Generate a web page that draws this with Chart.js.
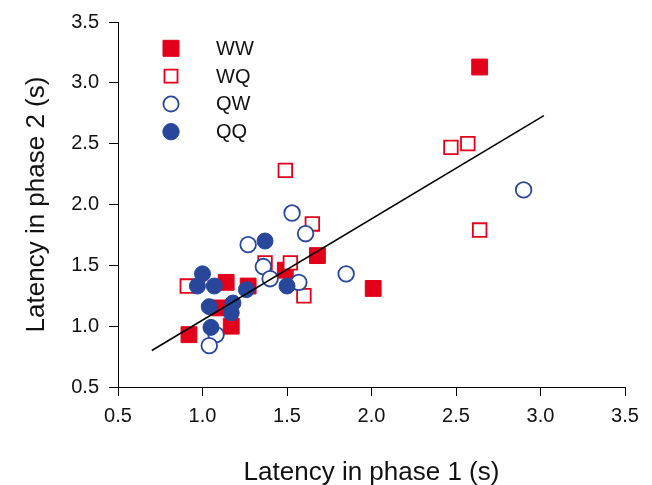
<!DOCTYPE html>
<html>
<head>
<meta charset="utf-8">
<script src="https://cdn.jsdelivr.net/npm/chart.js@4.4.1/dist/chart.umd.min.js"></script>
<style>
  html, body { margin: 0; padding: 0; background: #fff; }
  #wrap { width: 652px; height: 485px; }
</style>
</head>
<body>
<div id="wrap"><canvas id="grafico" width="652" height="485"></canvas></div>
<script>
// datos
const wwX = [2.64, 2.01, 1.68, 0.92, 1.17, 1.14, 1.27, 1.49, 1.10];
const wwY = [3.13, 1.31, 1.58, 0.93, 1.00, 1.36, 1.33, 1.46, 1.15];
const wqX = [1.49, 2.47, 2.57, 2.64, 1.65, 1.37, 1.52, 1.60, 0.91];
const wqY = [2.28, 2.47, 2.50, 1.79, 1.84, 1.52, 1.52, 1.25, 1.33];
const qwX = [2.90, 1.53, 1.61, 1.27, 1.85, 1.36, 1.40, 1.57, 1.08, 1.04];
const qwY = [2.12, 1.93, 1.76, 1.67, 1.43, 1.49, 1.39, 1.36, 0.93, 0.84];
const qqX = [1.37, 1.50, 1.26, 1.00, 0.97, 1.07, 1.04, 1.18, 1.17, 1.05];
const qqY = [1.70, 1.33, 1.30, 1.43, 1.33, 1.33, 1.16, 1.19, 1.11, 0.99];
const lineaX = [0.70, 3.02];
const lineaY = [0.80, 2.73];
const tickValues = [0.5, 1.0, 1.5, 2.0, 2.5, 3.0, 3.5];

const rojo = '#e2001a';
const azul = '#28479b';

function pares(xs, ys) {
    return xs.map((x, i) => ({ x: x, y: ys[i] }));
}

const leyenda = [
    { label: 'WW', style: 'rect', size: 16, fill: rojo, stroke: rojo, lw: 1 },
    { label: 'WQ', style: 'rect', size: 13, fill: '#fff', stroke: rojo, lw: 1.8 },
    { label: 'QW', style: 'circle', size: 7.6, fill: '#fff', stroke: azul, lw: 1.8 },
    { label: 'QQ', style: 'circle', size: 8.2, fill: azul, stroke: azul, lw: 1 }
];

const leyendaPlugin = {
    id: 'leyendaDentro',
    afterDraw(chart) {
        const ctx = chart.ctx;
        ctx.save();
        leyenda.forEach((item, i) => {
            const y = 48.3 + i * 27.8;
            ctx.beginPath();
            if (item.style === 'rect') {
                ctx.rect(171 - item.size / 2, y - item.size / 2, item.size, item.size);
            } else {
                ctx.arc(171, y, item.size, 0, Math.PI * 2);
            }
            ctx.fillStyle = item.fill;
            ctx.fill();
            ctx.lineWidth = item.lw;
            ctx.strokeStyle = item.stroke;
            ctx.stroke();
            ctx.fillStyle = '#111';
            ctx.font = '20px "Liberation Sans", Arial, sans-serif';
            ctx.textBaseline = 'middle';
            ctx.fillText(item.label, 216, y + 1);
        });
        ctx.restore();
    }
};

const fuente = { family: '"Liberation Sans", Arial, sans-serif', size: 20 };
const fuenteTitulo = { family: '"Liberation Sans", Arial, sans-serif', size: 26, lineHeight: 0.9 };

new Chart(document.getElementById('grafico').getContext('2d'), {
    type: 'scatter',
    data: {
        datasets: [
            { label: 'fit', type: 'line', data: pares(lineaX, lineaY), borderColor: '#000', borderWidth: 1.5, pointRadius: 0, fill: false, order: 0 },
            { label: 'QQ', data: pares(qqX, qqY), pointStyle: 'circle', pointRadius: 8, backgroundColor: azul, borderColor: azul, borderWidth: 1, order: 1 },
            { label: 'QW', data: pares(qwX, qwY), pointStyle: 'circle', pointRadius: 7.8, backgroundColor: '#fff', borderColor: azul, borderWidth: 1.8, order: 2 },
            { label: 'WQ', data: pares(wqX, wqY), pointStyle: 'rect', pointRadius: 9.6, backgroundColor: '#fff', borderColor: rojo, borderWidth: 1.8, order: 3 },
            { label: 'WW', data: pares(wwX, wwY), pointStyle: 'rect', pointRadius: 11.2, backgroundColor: rojo, borderColor: rojo, borderWidth: 1, order: 4 }
        ]
    },
    options: {
        responsive: false,
        animation: false,
        layout: { padding: { top: 22, right: 27, left: 0, bottom: 0 } },
        plugins: {
            legend: { display: false },
            tooltip: { enabled: false }
        },
        scales: {
            x: {
                type: 'linear',
                min: 0.5,
                max: 3.5,
                afterBuildTicks: (scale) => { scale.ticks = tickValues.map(v => ({ value: v })); },
                afterFit: (scale) => { scale.height = 98; },
                ticks: { color: '#111', font: fuente, padding: 8, maxRotation: 0, callback: (v) => Number(v).toFixed(1) },
                grid: { drawOnChartArea: false, drawTicks: true, tickLength: 9, tickColor: '#000', tickWidth: 1 },
                border: { display: true, color: '#000', width: 1 },
                title: { display: true, text: 'Latency in phase 1 (s)', color: '#111', font: fuenteTitulo, padding: { top: 0, bottom: 0 } }
            },
            y: {
                type: 'linear',
                min: 0.5,
                max: 3.5,
                afterBuildTicks: (scale) => { scale.ticks = tickValues.map(v => ({ value: v })); },
                afterFit: (scale) => { scale.width = 118; },
                ticks: { color: '#111', font: fuente, padding: 10, callback: (v) => Number(v).toFixed(1) },
                grid: { drawOnChartArea: false, drawTicks: true, tickLength: 9, tickColor: '#000', tickWidth: 1 },
                border: { display: true, color: '#000', width: 1 },
                title: { display: true, text: 'Latency in phase 2 (s)', color: '#111', font: fuenteTitulo, padding: { top: 25, bottom: 25 } }
            }
        }
    },
    plugins: [leyendaPlugin]
});
</script>
</body>
</html>
